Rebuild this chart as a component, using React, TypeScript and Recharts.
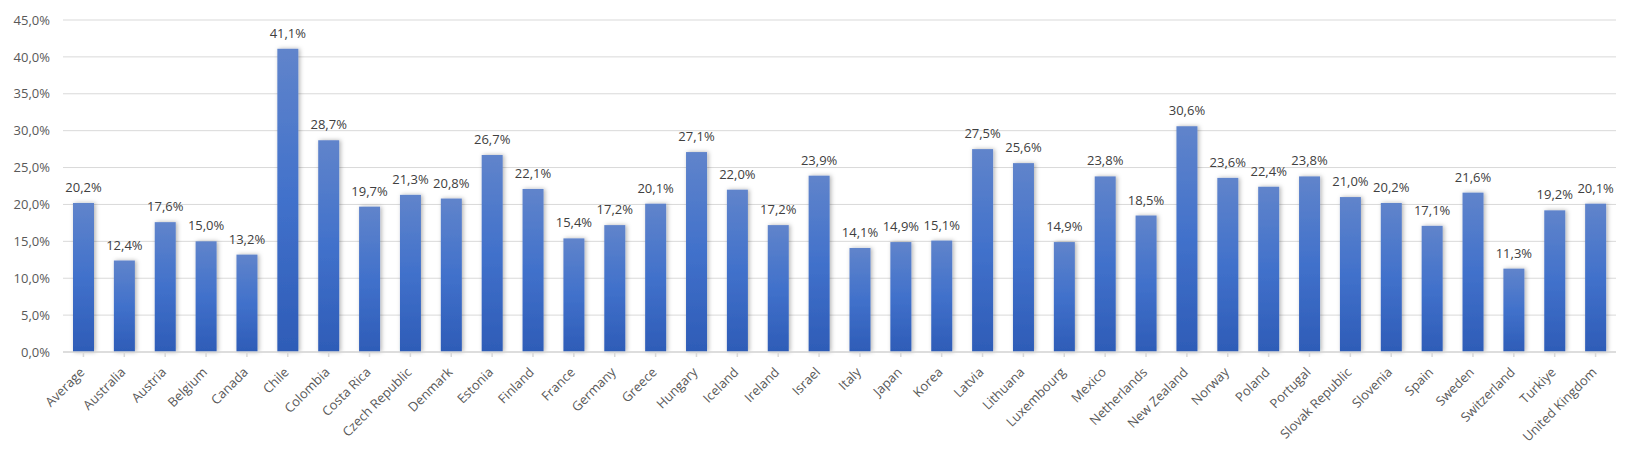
import React from "react";
import { BarChart, Bar, XAxis, YAxis, CartesianGrid, LabelList } from "recharts";

const categories = [
  "Average", "Australia", "Austria", "Belgium", "Canada", "Chile", "Colombia", "Costa Rica",
  "Czech Republic", "Denmark", "Estonia", "Finland", "France", "Germany", "Greece", "Hungary",
  "Iceland", "Ireland", "Israel", "Italy", "Japan", "Korea", "Latvia", "Lithuana", "Luxembourg",
  "Mexico", "Netherlands", "New Zealand", "Norway", "Poland", "Portugal", "Slovak Republic",
  "Slovenia", "Spain", "Sweden", "Switzerland", "Turkiye", "United Kingdom",
];

const values = [
  20.2, 12.4, 17.6, 15.0, 13.2, 41.1, 28.7, 19.7,
  21.3, 20.8, 26.7, 22.1, 15.4, 17.2, 20.1, 27.1,
  22.0, 17.2, 23.9, 14.1, 14.9, 15.1, 27.5, 25.6, 14.9,
  23.8, 18.5, 30.6, 23.6, 22.4, 23.8, 21.0,
  20.2, 17.1, 21.6, 11.3, 19.2, 20.1,
];

const yTicks = [0, 5, 10, 15, 20, 25, 30, 35, 40, 45];

const data = categories.map((name, i) => ({ name, value: values[i] }));

const fmt = (v: number) => v.toFixed(1).replace(".", ",") + "%";

const FONT = "'Open Sans', 'Noto Sans', sans-serif";

const XTick = (props: any) => {
  const { x, y, payload } = props;
  return (
    <g transform={`translate(${x + 2},${y + 14})`}>
      <text
        x={0}
        y={0}
        textAnchor="end"
        transform="rotate(-45)"
        fontSize={13}
        fontFamily={FONT}
        fill="#595959"
      >
        {payload.value}
      </text>
    </g>
  );
};

const BarShape = (props: any) => {
  const { x, y, width, height } = props;
  if (!height || height <= 0) return null;
  return (
    <rect x={x} y={y} width={width} height={height} fill="url(#barGrad)" filter="url(#barShadow)" />
  );
};

export default function App() {
  return (
    <div style={{ position: "absolute", left: 0, top: 0, width: 1634, height: 456, background: "#fff" }}>
      <BarChart
        width={1634}
        height={456}
        data={data}
        margin={{ top: 20, right: 18, bottom: 0, left: 0 }}
        barSize={21}
      >
        <defs>
          <linearGradient id="barGrad" x1="0" y1="0" x2="0" y2="1">
            <stop offset="0%" stopColor="#6084CB" />
            <stop offset="50%" stopColor="#4171CB" />
            <stop offset="100%" stopColor="#2E5CB7" />
          </linearGradient>
          <filter id="barShadow" x="-50%" y="-10%" width="200%" height="120%">
            <feDropShadow dx="1.5" dy="0" stdDeviation="2" floodColor="#000" floodOpacity="0.3" />
          </filter>
        </defs>
        <CartesianGrid vertical={false} stroke="#d9d9d9" strokeWidth={1} />
        <XAxis
          dataKey="name"
          interval={0}
          height={104}
          tick={<XTick />}
          tickLine={{ stroke: "#d9d9d9", strokeWidth: 1.5 }}
          axisLine={{ stroke: "#d9d9d9", strokeWidth: 1.5 }}
          tickSize={5}
          tickMargin={2}
        />
        <YAxis
          width={63}
          domain={[0, 45]}
          ticks={yTicks}
          interval={0}
          tickFormatter={fmt}
          axisLine={false}
          tickLine={false}
          tickSize={6}
          tickMargin={7}
          tick={{ fontSize: 13, fontFamily: FONT, fill: "#595959" }}
        />
        <Bar dataKey="value" isAnimationActive={false} shape={<BarShape />}>
          <LabelList
            dataKey="value"
            position="top"
            offset={11}
            formatter={(v: any) => fmt(Number(v))}
            style={{ fontSize: 13, fontFamily: FONT, fill: "#404040" }}
          />
        </Bar>
      </BarChart>
    </div>
  );
}
